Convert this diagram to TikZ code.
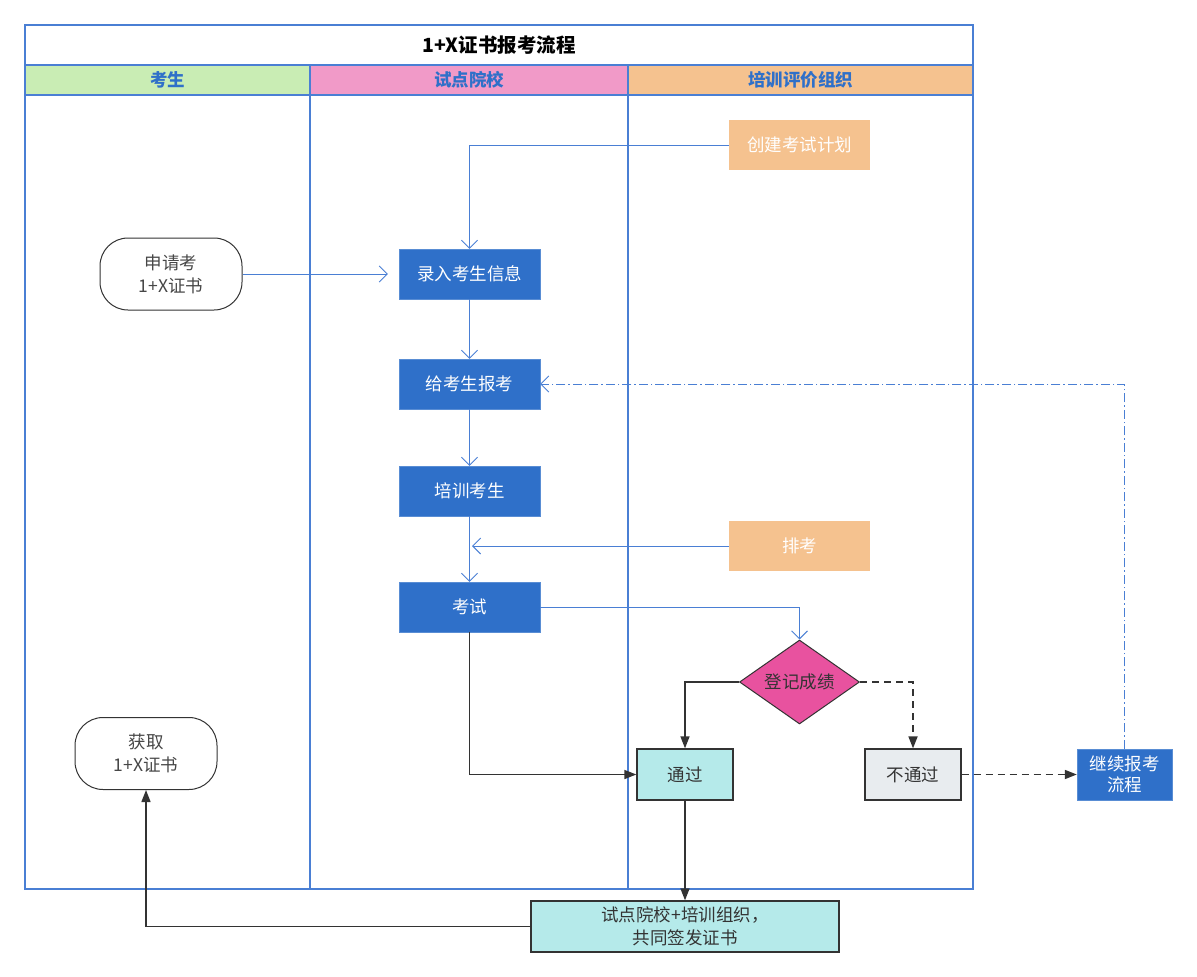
\documentclass[tikz,border=0pt]{standalone}
\usepackage{fontspec}
\setmainfont{Noto Sans CJK SC}
\usetikzlibrary{arrows.meta,shapes.geometric}
\definecolor{laneblue}{HTML}{4A7FD4}
\definecolor{boxblue}{HTML}{2F70C9}
\definecolor{peach}{HTML}{F5C28F}
\definecolor{pinkhdr}{HTML}{F19AC8}
\definecolor{greenhdr}{HTML}{C9EDB4}
\definecolor{magenta}{HTML}{E8529F}
\definecolor{teal}{HTML}{B5EAEA}
\definecolor{lgray}{HTML}{E8ECEF}
\definecolor{dark}{HTML}{333333}
\tikzset{
  txt/.style={font=\fontsize{17.5}{23}\selectfont},
  bluebox/.style={txt, rectangle, fill=boxblue, draw=boxblue!80!white, text=white, minimum width=141pt, minimum height=50pt, inner sep=2pt},
  peachbox/.style={txt, rectangle, fill=peach, text=white, minimum width=141pt, minimum height=50pt},
  stadium/.style={txt, rectangle, draw=dark, line width=1pt, rounded corners=28pt, fill=white, text=dark!90, align=center, minimum width=142pt, minimum height=72pt},
  lightbox/.style={txt, rectangle, draw=dark, line width=1.3pt, text=dark, align=center, minimum height=51pt},
  hdr/.style={font=\bfseries\fontsize{17.5}{20}\selectfont, text=boxblue},
  bline/.style={draw=laneblue, line width=0.9pt, -{Straight Barb[length=8pt,width=16pt,line width=0.9pt]}},
  dline/.style={draw=dark, line width=1.4pt, -{Triangle[length=12pt,width=9pt]}},
  dashline/.style={dline, line width=1.7pt, dash pattern=on 7pt off 5pt},
  lane/.style={draw=laneblue, line width=1.3pt},
}
\begin{document}
\begin{tikzpicture}[x=1pt,y=-1pt]
\useasboundingbox (0,0) rectangle (1197,977);
% swimlane frame
\fill[greenhdr] (25,65) rectangle (310,95);
\fill[pinkhdr] (310,65) rectangle (628,95);
\fill[peach] (628,65) rectangle (973,95);
\draw[lane] (25,25) rectangle (973,889);
\draw[lane] (25,65) -- (973,65);
\draw[lane] (25,95) -- (973,95);
\draw[lane] (310,65) -- (310,889);
\draw[lane] (628,65) -- (628,889);
\node[font=\bfseries\fontsize{19.5}{22}\selectfont] (title) at (499,45) {1+X证书报考流程};
\node[hdr] (h1) at (167.5,80) {考生};
\node[hdr] (h2) at (469,80) {试点院校};
\node[hdr] (h3) at (800.5,80) {培训评价组织};
% nodes
\node[peachbox] (plan) at (799.5,145) {创建考试计划};
\node[stadium] (apply) at (171,274) {申请考\\1+X证书};
\node[bluebox] (lr) at (469.5,274) {录入考生信息};
\node[bluebox] (bk) at (469.5,384) {给考生报考};
\node[bluebox] (px) at (469.5,491) {培训考生};
\node[peachbox] (pk) at (799.5,546) {排考};
\node[bluebox] (ks) at (469.5,607) {考试};
\node[txt, diamond, fill=magenta, draw=dark, line width=1pt, text=dark, shape aspect=1.43, minimum width=120pt, minimum height=84pt, inner sep=0pt] (dj) at (799.5,682) {登记成绩};
\node[lightbox, fill=teal, minimum width=96pt] (tg) at (685,774.5) {通过};
\node[lightbox, fill=lgray, minimum width=96pt] (btg) at (913,774.5) {不通过};
\node[bluebox, minimum width=95pt, minimum height=51pt, align=center, font=\fontsize{17.5}{21}\selectfont] (jx) at (1124.5,774.5) {继续报考\\流程};
\node[stadium] (hq) at (146,753.5) {获取\\1+X证书};
\node[lightbox, fill=teal, minimum width=308pt] (qf) at (685,926.5) {试点院校+培训组织，\\共同签发证书};
% connectors
\draw[bline] (plan.west) -| (lr.north);
\draw[bline, shorten >=11pt] (apply.east) -- (lr.west);
\draw[bline] (lr.south) -- (bk.north);
\draw[bline] (bk.south) -- (px.north);
\draw[bline] (px.south) -- (ks.north);
\coordinate (pkend) at (472,546);
\draw[bline] (pk.west) -- (pkend);
\draw[bline] (ks.east) -| (dj.north);
\draw[dline] (ks.south) |- (tg.west);
\draw[dline] (dj.west) -| (tg.north);
\draw[dashline] (dj.east) -| (btg.north);
\draw[dashline] (btg.east) -- (jx.west);
\draw[bline, dash pattern=on 9pt off 3pt on 1.5pt off 3pt] (jx.north) |- (bk.east);
\draw[dline] (tg.south) -- (qf.north);
\draw[dline] (qf.west) -| (hq.south);
\end{tikzpicture}
\end{document}
